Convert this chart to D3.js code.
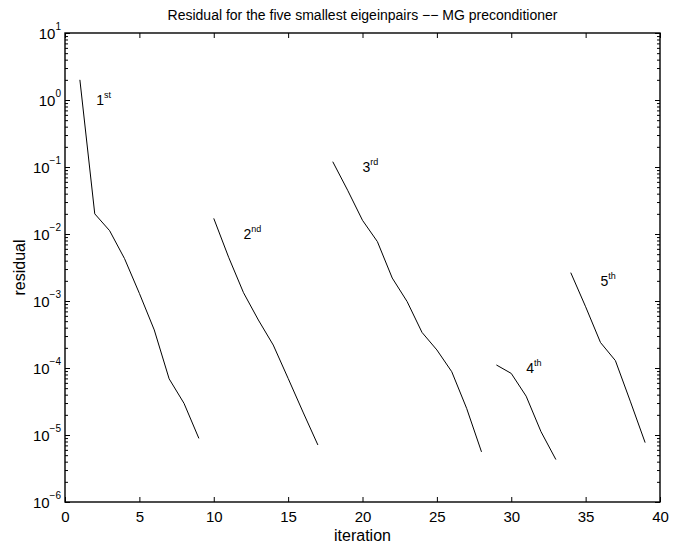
<!DOCTYPE html>
<html><head><meta charset="utf-8">
<script src="https://cdn.jsdelivr.net/npm/d3@7"></script>
<style>
body{margin:0;background:#fff;}
text{font-family:"Liberation Sans",Arial,Helvetica,sans-serif;fill:#000;}
</style></head>
<body>
<svg id="chart" width="673" height="548"></svg>
<script>
// ---- data ----
const iter1 = [1,2,3,4,5,6,7,8,9];
const res1  = [2.0, 0.020, 0.0112, 0.0043, 0.0013, 3.7e-4, 6.9e-5, 2.97e-5, 8.9e-6];
const iter2 = [10,11,12,13,14,15,16,17];
const res2  = [0.0171, 4.5e-3, 1.33e-3, 5.2e-4, 2.2e-4, 7.0e-5, 2.2e-5, 7.1e-6];
const iter3 = [18,19,20,21,22,23,24,25,26,27,28];
const res3  = [0.12, 0.045, 0.016, 7.7e-3, 2.2e-3, 9.8e-4, 3.4e-4, 1.86e-4, 8.8e-5, 2.5e-5, 5.6e-6];
const iter4 = [29,30,31,32,33];
const res4  = [1.11e-4, 8.3e-5, 3.8e-5, 1.12e-5, 4.3e-6];
const iter5 = [34,35,36,37,38,39];
const res5  = [2.65e-3, 8.2e-4, 2.4e-4, 1.29e-4, 3.2e-5, 7.7e-6];

const labelBase = ["1","2","3","4","5"];
const labelSup  = ["st","nd","rd","th","th"];
const labelX    = [2.1, 12, 20, 31, 36];
const labelY    = [1, 0.01, 0.1, 1e-4, 2e-3];

const xTicks = [0,5,10,15,20,25,30,35,40];
const yExponents = [-6,-5,-4,-3,-2,-1,0,1];

const titleText = "Residual for the five smallest eigeinpairs \u2212\u2212 MG preconditioner";
const xLabelText = "iteration";
const yLabelText = "residual";

// ---- layout ----
const L = 65, R = 660, T = 33, B = 502;
const svg = d3.select("#chart");
const x = d3.scaleLinear().domain([0,40]).range([L,R]);
const y = d3.scaleLog().domain([1e-6,10]).range([B,T]);

const series = [[iter1,res1],[iter2,res2],[iter3,res3],[iter4,res4],[iter5,res5]];
const line = d3.line().x(d=>x(d[0])).y(d=>y(d[1]));

// minor ticks for y
const minorVals = [];
for (let e=-6; e<1; e++) for (let m=2; m<=9; m++) minorVals.push(m*Math.pow(10,e));

const g = svg.append("g");
// x major ticks bottom and top (inward)
const xb = d3.axisBottom(x).tickValues(xTicks).tickSizeInner(-5).tickSizeOuter(0).tickPadding(9).tickFormat(d3.format("d"));
const gxb = g.append("g").attr("transform",`translate(0,${B})`).call(xb);
gxb.select(".domain").remove();
gxb.selectAll("text").attr("font-size",15).attr("dy","0.71em");
const xt = d3.axisTop(x).tickValues(xTicks).tickSizeInner(-5).tickSizeOuter(0).tickFormat("");
const gxt = g.append("g").attr("transform",`translate(0,${T})`).call(xt);
gxt.select(".domain").remove();

// y major ticks left and right
const yl = d3.axisLeft(y).tickValues(yExponents.map(e=>Math.pow(10,e))).tickSizeInner(-5).tickSizeOuter(0).tickFormat("");
const gyl = g.append("g").attr("transform",`translate(${L},0)`).call(yl);
gyl.select(".domain").remove();
const yr = d3.axisRight(y).tickValues(yExponents.map(e=>Math.pow(10,e))).tickSizeInner(-5).tickSizeOuter(0).tickFormat("");
const gyr = g.append("g").attr("transform",`translate(${R},0)`).call(yr);
gyr.select(".domain").remove();
// minor
const ylm = d3.axisLeft(y).tickValues(minorVals).tickSizeInner(-3).tickSizeOuter(0).tickFormat("");
const gylm = g.append("g").attr("transform",`translate(${L},0)`).call(ylm);
gylm.select(".domain").remove();
const yrm = d3.axisRight(y).tickValues(minorVals).tickSizeInner(-3).tickSizeOuter(0).tickFormat("");
const gyrm = g.append("g").attr("transform",`translate(${R},0)`).call(yrm);
gyrm.select(".domain").remove();
g.selectAll(".tick line").attr("stroke","#000").attr("stroke-width",1);

// y tick labels 10^k
const ylab = g.append("g");
yExponents.forEach(e=>{
  const t = ylab.append("text").attr("x", L-4).attr("y", y(Math.pow(10,e))+6)
    .attr("text-anchor","end").attr("font-size",15);
  t.append("tspan").text("10");
  t.append("tspan").attr("font-size",10).attr("dy",-9).text(e<0 ? "\u2212"+(-e) : String(e));
});

// box
g.append("rect").attr("x",L).attr("y",T).attr("width",R-L).attr("height",B-T)
  .attr("fill","none").attr("stroke","#000").attr("stroke-width",1.4);

// lines
series.forEach(([xs,ys])=>{
  g.append("path").datum(xs.map((v,i)=>[v,ys[i]])).attr("d",line)
    .attr("fill","none").attr("stroke","#000").attr("stroke-width",1);
});

// labels
labelBase.forEach((b,i)=>{
  const t = g.append("text").attr("x",x(labelX[i])).attr("y",y(labelY[i])+5).attr("font-size",14);
  t.append("tspan").text(b);
  t.append("tspan").attr("font-size",9).attr("dy",-7).text(labelSup[i]);
});

// title and axis labels
svg.append("text").attr("x",(L+R)/2).attr("y",20).attr("text-anchor","middle").attr("font-size",14).text(titleText);
svg.append("text").attr("x",(L+R)/2).attr("y",541).attr("text-anchor","middle").attr("font-size",16).text(xLabelText);
svg.append("text").attr("transform",`translate(25,${(T+B)/2}) rotate(-90)`).attr("text-anchor","middle").attr("font-size",16).text(yLabelText);
</script>
</body></html>
